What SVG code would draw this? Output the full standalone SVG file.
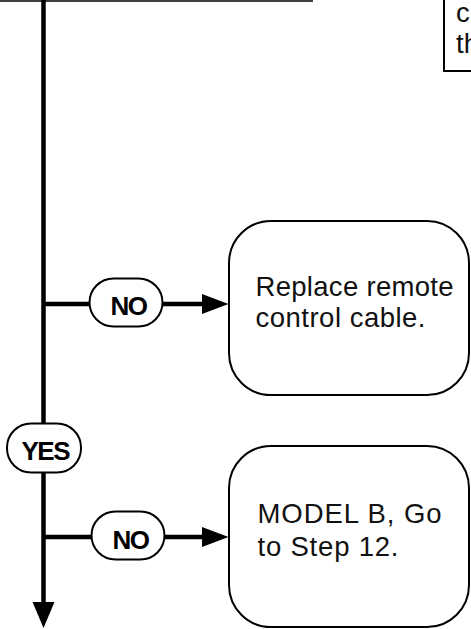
<svg xmlns="http://www.w3.org/2000/svg" width="471" height="629" viewBox="0 0 471 629">
<style>
  .box { fill: #fff; stroke: #000; stroke-width: 2; }
  .pill { fill: #fff; stroke: #000; stroke-width: 2; }
  .flow { stroke: #000; stroke-width: 4.5; fill: none; }
  .head { fill: #000; stroke: none; }
  .txt { font-family: "Liberation Sans", Arial, sans-serif; font-size: 27.5px; fill: #111; }
  .lbl { font-family: "Liberation Sans", Arial, sans-serif; font-size: 26px; font-weight: bold; fill: #000; letter-spacing: -1.5px; }
</style>
<rect width="471" height="629" fill="#fff"/>
<g id="connectors">
  <line x1="0" y1="1" x2="313" y2="1" stroke="#000" stroke-width="1.5"/>
  <line class="flow" x1="43.5" y1="0" x2="43.5" y2="604"/>
  <polygon class="head" points="32.5,602 54.5,602 43.5,628"/>
  <line class="flow" x1="43.5" y1="304" x2="204" y2="304"/>
  <polygon class="head" points="202,294 202,314 228.5,304"/>
  <line class="flow" x1="43.5" y1="537" x2="204" y2="537"/>
  <polygon class="head" points="202,527 202,547 228.5,537"/>
</g>
<g id="top-right-box">
  <rect class="box" x="444" y="-10" width="60" height="81" stroke-width="1.8"/>
  <text class="txt" x="456" y="22">c</text>
  <text class="txt" x="456" y="53">th</text>
</g>
<g id="label-no-1">
  <rect class="pill" x="89.5" y="278.5" width="73" height="48" rx="24" ry="24"/>
  <text class="lbl" x="110.5" y="314.5">NO</text>
</g>
<g id="box-replace">
  <rect class="box" x="229" y="221" width="240" height="174" rx="42" ry="42"/>
  <text class="txt" x="255.5" y="295.5" textLength="198" lengthAdjust="spacing">Replace remote</text>
  <text class="txt" x="255.5" y="327" textLength="170" lengthAdjust="spacing">control cable.</text>
</g>
<g id="label-yes">
  <rect class="pill" x="7" y="423.5" width="74" height="49" rx="24" ry="24"/>
  <text class="lbl" x="21.5" y="460">YES</text>
</g>
<g id="label-no-2">
  <rect class="pill" x="91.5" y="511.5" width="73" height="48" rx="24" ry="24"/>
  <text class="lbl" x="112.5" y="548.5">NO</text>
</g>
<g id="box-model-b">
  <rect class="box" x="229" y="446" width="240" height="181" rx="42" ry="42"/>
  <text class="txt" x="257.5" y="522.5" textLength="184" lengthAdjust="spacing">MODEL B, Go</text>
  <text class="txt" x="257.5" y="555.5" textLength="141" lengthAdjust="spacing">to Step 12.</text>
</g>
</svg>
